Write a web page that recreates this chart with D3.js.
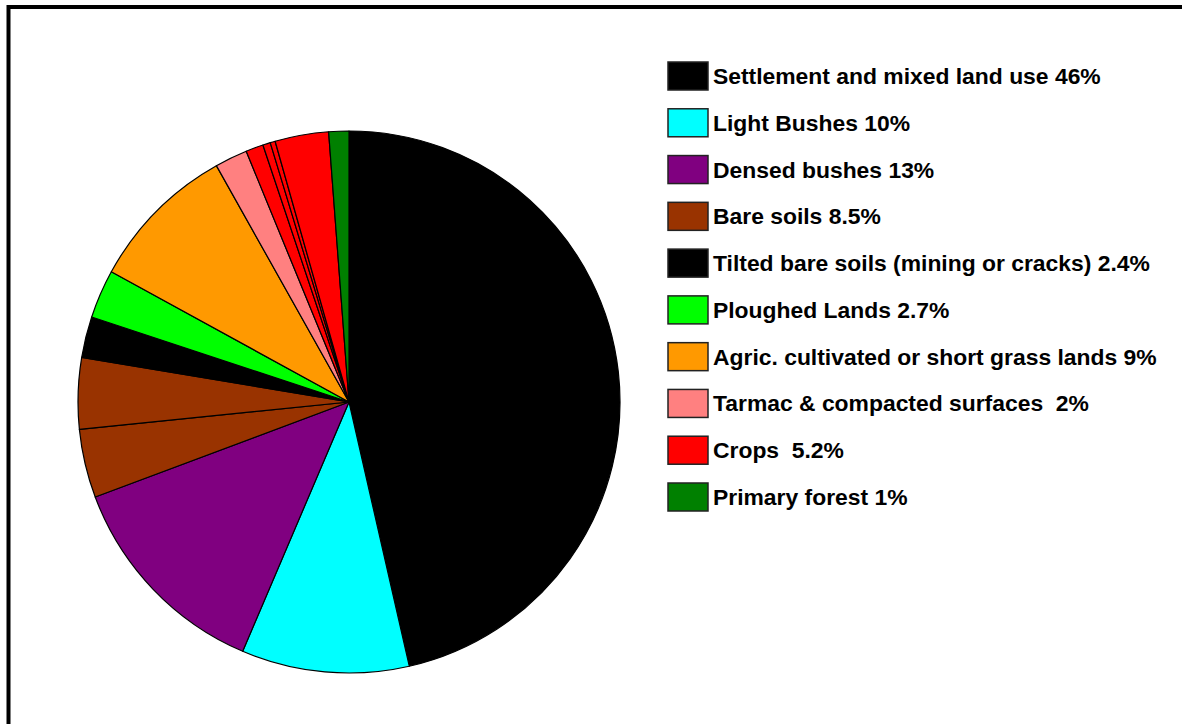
<!DOCTYPE html>
<html>
<head>
<meta charset="utf-8">
<script src="https://cdn.jsdelivr.net/npm/d3@7"></script>
<style>
  body { margin: 0; background: #fff; }
  svg { display: block; }
</style>
</head>
<body>
<div id="chart"></div>
<script>
// legend entries
const categories = [
    "Settlement and mixed land use 46%",
    "Light Bushes 10%",
    "Densed bushes 13%",
    "Bare soils 8.5%",
    "Tilted bare soils (mining or cracks) 2.4%",
    "Ploughed Lands 2.7%",
    "Agric. cultivated or short grass lands 9%",
    "Tarmac & compacted surfaces  2%",
    "Crops  5.2%",
    "Primary forest 1%"
];
const categoryColors = ["#000000", "#00ffff", "#800080", "#993300", "#000000", "#00ff00", "#ff9900", "#ff8080", "#ff0000", "#008000"];

// slices as drawn in the pie (some categories are split in several pieces)
const sliceCategory = [0, 1, 2, 3, 3, 4, 5, 6, 7, 8, 8, 8, 8, 9];
const sliceValues = [46.5, 10, 12.9, 4.1, 4.25, 2.45, 2.9, 8.9, 1.95, 1.05, 0.45, 0.3, 3.2, 1.2];

const width = 1182, height = 724;
const svg = d3.select("#chart").append("svg").attr("width", width).attr("height", height);

// frame (only top and left edges visible)
svg.append("path")
    .attr("d", "M8.5,724 V7 H1182")
    .attr("fill", "none")
    .attr("stroke", "#000")
    .attr("stroke-width", 4);

const cx = 349, cy = 402, radius = 271;
const pie = d3.pie().sort(null).value(d => d.value);
const slices = pie(sliceValues.map((v, i) => ({ value: v, cat: sliceCategory[i] })));
const arc = d3.arc().innerRadius(0).outerRadius(radius);

svg.append("g")
    .attr("transform", "translate(" + cx + "," + cy + ")")
    .selectAll("path")
    .data(slices)
    .join("path")
    .attr("d", arc)
    .attr("fill", d => categoryColors[d.data.cat])
    .attr("stroke", "#000")
    .attr("stroke-width", 1.2)
    .attr("stroke-linejoin", "round");

// legend
const y = d3.scalePoint().domain(categories).range([76, 497]);
const legend = svg.append("g").selectAll("g")
    .data(categories)
    .join("g")
    .attr("transform", d => "translate(0," + y(d) + ")");

legend.append("rect")
    .attr("x", 668)
    .attr("y", -14)
    .attr("width", 40)
    .attr("height", 28)
    .attr("fill", (d, i) => categoryColors[i])
    .attr("stroke", "#222")
    .attr("stroke-width", 1.5);

legend.append("text")
    .attr("transform", "translate(713,8) scale(1.04,1)")
    .style("font-family", "'Liberation Sans', Arial, sans-serif")
    .style("font-weight", "bold")
    .style("font-size", "22px")
    .attr("fill", "#000")
    .attr("xml:space", "preserve")
    .style("white-space", "pre")
    .text(d => d);
</script>
</body>
</html>
